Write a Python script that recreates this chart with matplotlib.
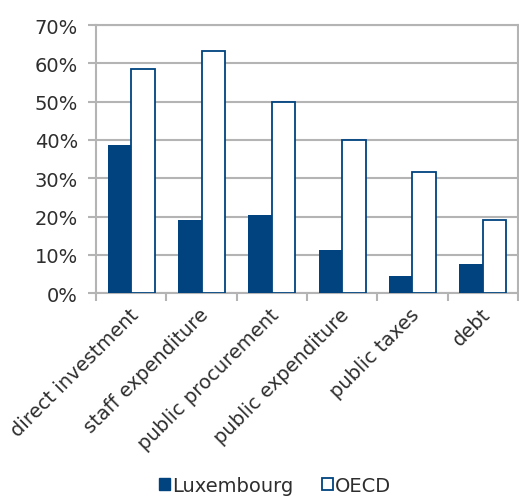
import matplotlib
matplotlib.use("Agg")
import matplotlib.pyplot as plt
import numpy as np
from matplotlib.ticker import PercentFormatter, FixedLocator
from matplotlib.patches import Patch

categories = ["direct investment", "staff expenditure", "public procurement",
              "public expenditure", "public taxes", "debt"]
luxembourg = [38.6, 19.2, 20.3, 11.4, 4.4, 7.6]
oecd = [58.5, 63.2, 49.8, 40.1, 31.6, 19.2]

BLUE = "#00437F"
GRID = "#B4B4B4"
TEXT = "#2E2E2E"

plt.rcParams["font.family"] = ["DejaVu Sans"]

fig = plt.figure(figsize=(5.19, 5.02), dpi=100)
ax = fig.add_axes([0.185, 0.414, 0.813, 0.534])

x = np.arange(len(categories))
w = 1 / 3
ax.bar(x - w / 2, luxembourg, w, color=BLUE, zorder=3)
ax.bar(x + w / 2, oecd, w, facecolor="white", edgecolor=BLUE, linewidth=1.3, zorder=3)

ax.set_xlim(-0.5, len(categories) - 0.5)
ax.set_ylim(0, 70)
ax.set_yticks(np.arange(0, 71, 10))
ax.yaxis.set_major_formatter(PercentFormatter(decimals=0))
ax.grid(axis="y", color=GRID, linewidth=1.5, zorder=0)

ax.xaxis.set_major_locator(FixedLocator(np.arange(-0.5, len(categories), 1)))
ax.xaxis.set_minor_locator(FixedLocator(x + 0.06))
ax.set_xticklabels([""] * (len(categories) + 1))
ax.set_xticklabels(categories, minor=True, rotation=45, ha="right", va="center",
                   rotation_mode="anchor", fontsize=14, color=TEXT)
ax.tick_params(axis="x", which="major", length=6, color=GRID, width=1.5, direction="out")
ax.tick_params(axis="x", which="minor", length=0, pad=13)
ax.tick_params(axis="y", length=6, color=GRID, width=1.5, labelsize=14,
               labelcolor=TEXT, pad=7)

for side in ["left", "bottom", "right", "top"]:
    ax.spines[side].set_color(GRID)
    ax.spines[side].set_linewidth(1.5)

handles = [Patch(facecolor=BLUE, edgecolor=BLUE, label="Luxembourg"),
           Patch(facecolor="white", edgecolor=BLUE, linewidth=1.3, label="OECD")]
leg = fig.legend(handles=handles, loc="lower center", bbox_to_anchor=(0.53, -0.022),
                 ncol=2, frameon=False, fontsize=14, handlelength=0.55,
                 handleheight=0.55, handletextpad=0.1, columnspacing=1.5)
for t in leg.get_texts():
    t.set_color(TEXT)

fig.savefig("out.png", dpi=100)
